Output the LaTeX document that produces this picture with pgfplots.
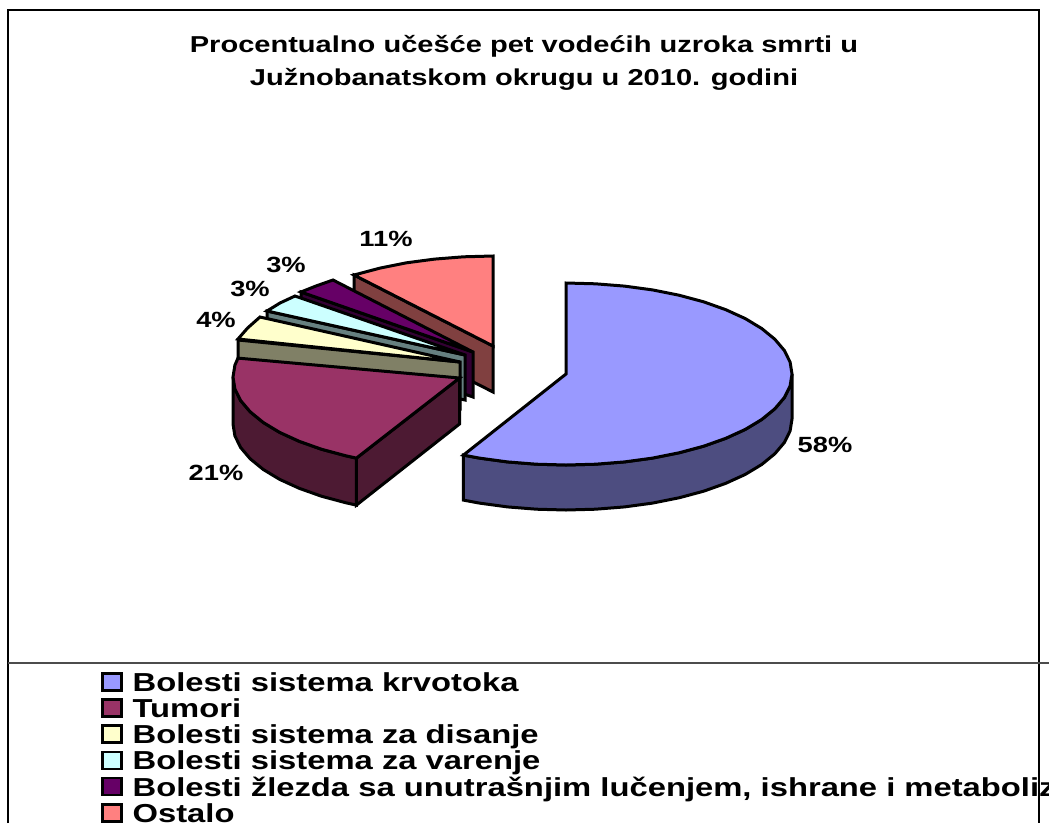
\documentclass[border=0pt]{standalone}
\usepackage{graphicx}
\usepackage{fontspec}
\setmainfont{Liberation Sans}
\usepackage{pgfplots}
\pgfplotsset{compat=1.18}
\newcommand{\st}[1]{\hspace{10pt}\rule[-6pt]{0pt}{24.4pt}\scalebox{1.26}[1]{#1}}
\newcommand{\tl}[1]{\scalebox{1.263}[1]{#1}}
\newcommand{\pl}[1]{\scalebox{1.24}[1]{#1}}
\definecolor{bluetop}{HTML}{9999FF}\definecolor{bluewall}{HTML}{4D4D80}
\definecolor{martop}{HTML}{993366}\definecolor{marwall}{HTML}{4D1A33}
\definecolor{yeltop}{HTML}{FFFFCC}\definecolor{yelwall}{HTML}{808066}
\definecolor{cyatop}{HTML}{CCFFFF}\definecolor{cyawall}{HTML}{668080}
\definecolor{purtop}{HTML}{660066}\definecolor{purwall}{HTML}{330033}
\definecolor{pnktop}{HTML}{FF8080}\definecolor{pnkwall}{HTML}{804040}
\begin{document}
\begin{tikzpicture}
\path[use as bounding box] (0,0) rectangle (1049pt,823pt);
\begin{axis}[
  at={(0,0)},anchor=south west,
  width=1049pt,height=823pt,scale only axis,
  xmin=0,xmax=1049,ymin=0,ymax=823,y dir=reverse,
  hide axis,clip=false,
  legend cell align=left,
  legend style={at={(axis cs:101,672.3)},anchor=north west,draw=none,fill=none,
    inner sep=0pt,outer sep=0pt,row sep=5.1pt,
    nodes={inner sep=0pt,outer sep=0pt},
    font=\fontsize{26pt}{26pt}\selectfont\bfseries,
    /tikz/column 2/.style={column sep=0pt}},
  pie/.style={draw=black,line width=3pt,line join=miter,forget plot},
  legend image code/.code={\draw[#1,line width=2.6pt] (0pt,-7.5pt) rectangle (19pt,9.5pt);},
]
% frame
\addplot[black,line width=1.2pt,forget plot] coordinates {(8,823) (8,10) (1039,10) (1039,823)};
\addplot[black!70,line width=1.2pt,forget plot] coordinates {(8,663) (1049,663)};
% Ostalo 11%
\addplot[pie,fill=pnkwall] coordinates {(354,275) (493,346) (493,392) (354,321)} -- cycle;
\addplot[pie,fill=pnktop] coordinates {(493,346) (354,275) (380,268.1) (406.5,262.8) (434.5,259.1) (463.5,256.8) (493,256)} -- cycle;
% Endokrine 3%
\addplot[pie,fill=purwall] coordinates {(301,292) (473,352) (473,397) (301,337)} -- cycle;
\addplot[pie,fill=purtop] coordinates {(473,352) (301,292) (316,286) (333,280)} -- cycle;
% Varenje 3%
\addplot[pie,fill=cyawall] coordinates {(267,311) (465,355) (465,400) (267,356)} -- cycle;
\addplot[pie,fill=cyatop] coordinates {(465,355) (267,311) (280,303) (295,296)} -- cycle;
% Disanje 4%
\addplot[pie,fill=yelwall] coordinates {(460,362) (238,340) (238,387) (460,409)} -- cycle;
\addplot[pie,fill=yeltop] coordinates {(460,362) (238,339) (247.6,328) (260,317)} -- cycle;
% Tumori 21%
\addplot[pie,fill=marwall] coordinates {(459.5,378) (356.4,458.1) (356.4,505.1) (459.5,424)} -- cycle;
\addplot[pie,fill=marwall] coordinates {(356.4,458.1) (346,455.8) (321.4,449.2) (299.2,441.3) (279.7,432.4) (263.3,422.5) (250.2,411.8) (240.7,400.6) (234.9,388.9) (233,377) (233,424) (234.9,435.9) (240.7,447.6) (250.2,458.8) (263.3,469.5) (279.7,479.4) (299.2,488.3) (321.4,496.2) (346,502.8) (356.4,505.1)} -- cycle;
\addplot[pie,fill=martop] coordinates {(459.5,378) (356.4,458.1) (346,455.8) (321.4,449.2) (299.2,441.3) (279.7,432.4) (263.3,422.5) (250.2,411.8) (240.7,400.6) (234.9,388.9) (233,377) (234.9,365.1) (238,358.1)} -- cycle;
% Krvotok 58%
\addplot[pie,fill=bluewall] coordinates {(792,374) (790.1,385.9) (784.3,397.6) (774.8,408.8) (761.7,419.5) (745.3,429.4) (725.8,438.3) (703.6,446.2) (679,452.8) (652.5,458.1) (624.5,461.9) (595.5,464.2) (566,465) (536.5,464.2) (507.5,461.9) (479.5,458.1) (463.4,455.1) (463.4,500.1) (479.5,503.1) (507.5,506.9) (536.5,509.2) (566,510) (595.5,509.2) (624.5,506.9) (652.5,503.1) (679,497.8) (703.6,491.2) (725.8,483.3) (745.3,474.4) (761.7,464.5) (774.8,453.8) (784.3,442.6) (790.1,430.9) (792,419)} -- cycle;
\addplot[pie,fill=bluetop] coordinates {(566,374) (566,283) (595.5,283.8) (624.5,286.1) (652.5,289.9) (679,295.2) (703.6,301.8) (725.8,309.7) (745.3,318.6) (761.7,328.5) (774.8,339.2) (784.3,350.4) (790.1,362.1) (792,374) (790.1,385.9) (784.3,397.6) (774.8,408.8) (761.7,419.5) (745.3,429.4) (725.8,438.3) (703.6,446.2) (679,452.8) (652.5,458.1) (624.5,461.9) (595.5,464.2) (566,465) (536.5,464.2) (507.5,461.9) (479.5,458.1) (463.4,455.1)} -- cycle;
% legend
\addlegendimage{draw=black,fill=bluetop}\addlegendentry{\st{Bolesti sistema krvotoka}}
\addlegendimage{draw=black,fill=martop}\addlegendentry{\st{Tumori}}
\addlegendimage{draw=black,fill=yeltop}\addlegendentry{\st{Bolesti sistema za disanje}}
\addlegendimage{draw=black,fill=cyatop}\addlegendentry{\st{Bolesti sistema za varenje}}
\addlegendimage{draw=black,fill=purtop}\addlegendentry{\st{Bolesti žlezda sa unutrašnjim lučenjem, ishrane i metabolizma}}
\addlegendimage{draw=black,fill=pnktop}\addlegendentry{\st{Ostalo}}
% title and labels
\node[font=\fontsize{23pt}{25pt}\selectfont\bfseries,anchor=center] at (axis cs:524,46) {\tl{Procentualno učešće pet vodećih uzroka smrti u}};
\node[font=\fontsize{23pt}{25pt}\selectfont\bfseries,anchor=center] at (axis cs:524,79) {\tl{Južnobanatskom okrugu u 2010. godini}};
\tikzset{pct/.style={font=\fontsize{22pt}{24pt}\selectfont\bfseries,anchor=center,inner sep=0pt}}
\node[pct] at (axis cs:825,445) {\pl{58\%}};
\node[pct] at (axis cs:216,472.5) {\pl{21\%}};
\node[pct] at (axis cs:216,320) {\pl{4\%}};
\node[pct] at (axis cs:250,289) {\pl{3\%}};
\node[pct] at (axis cs:286,264.5) {\pl{3\%}};
\node[pct] at (axis cs:386,238.5) {\pl{11\%}};
\end{axis}
\end{tikzpicture}
\end{document}
